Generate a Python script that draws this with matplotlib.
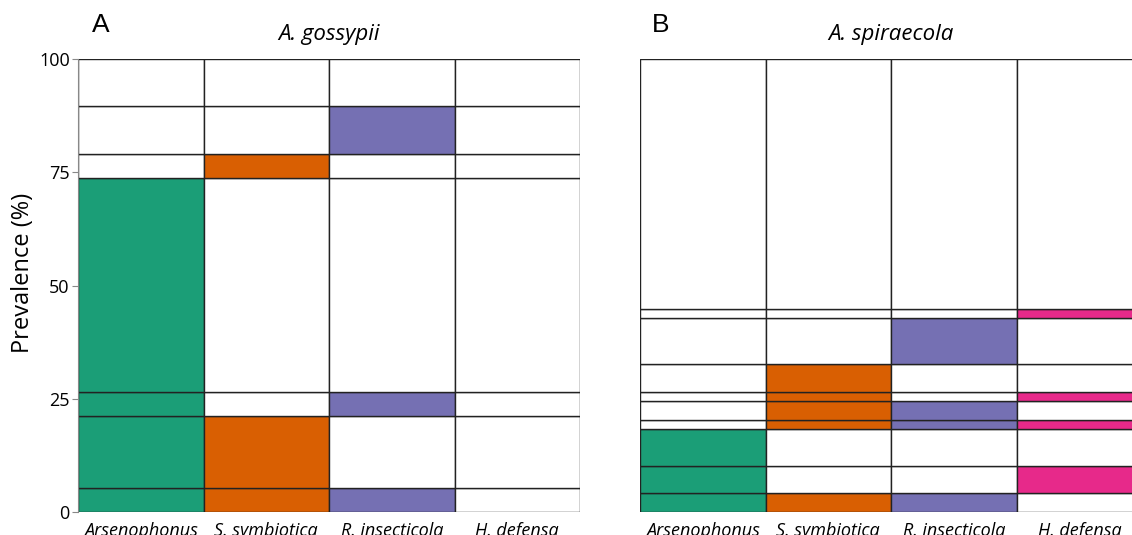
import numpy as np
import matplotlib.pyplot as plt

# Simbiontes (columnas)
simbiontes = ['Arsenophonus', 'S. symbiotica', 'R. insecticola', 'H. defensa']
colores = ['#1b9e77', '#d95f02', '#7570b3', '#e7298a']

# Panel A: A. gossypii - combinaciones de infección (de abajo hacia arriba), en %
prev_a = [5.3, 15.8, 5.3, 47.4, 5.3, 10.5, 10.5]
pres_a = [[1, 1, 1, 0],
          [1, 1, 0, 0],
          [1, 0, 1, 0],
          [1, 0, 0, 0],
          [0, 1, 0, 0],
          [0, 0, 1, 0],
          [0, 0, 0, 0]]

# Panel B: A. spiraecola
prev_b = [4.1, 6.1, 8.2, 2.0, 4.1, 2.0, 6.1, 10.2, 2.0, 55.1]
pres_b = [[1, 1, 1, 0],
          [1, 0, 0, 1],
          [1, 0, 0, 0],
          [0, 1, 1, 1],
          [0, 1, 1, 0],
          [0, 1, 0, 1],
          [0, 1, 0, 0],
          [0, 0, 1, 0],
          [0, 0, 0, 1],
          [0, 0, 0, 0]]

fuente = 'Open Sans'

fig = plt.figure(figsize=(11.32, 5.35), dpi=100)
ax_a = fig.add_axes([0.0689, 0.043, 0.4435, 0.8467])
ax_b = fig.add_axes([0.5654, 0.043, 0.4435, 0.8467])


def dibujar(ax, prev, pres):
    prev = np.array(prev)
    pres = np.array(pres)
    abajo = np.concatenate([[0], np.cumsum(prev)[:-1]])
    for j in range(len(simbiontes)):
        cols = [colores[j] if p else 'white' for p in pres[:, j]]
        ax.bar(np.full(len(prev), j), prev, bottom=abajo, width=1.0,
               color=cols, edgecolor='#222222', linewidth=1.0)
    ax.set_xlim(-0.5, 3.5)
    ax.set_ylim(0, 100)
    ax.set_xticks(range(len(simbiontes)))
    ax.set_xticklabels(simbiontes, fontstyle='italic', fontsize=13, family=fuente)
    ax.tick_params(axis='x', length=0, pad=7)
    for s in ['top', 'right', 'bottom']:
        ax.spines[s].set_visible(False)
    ax.spines['left'].set_color('#888888')


dibujar(ax_a, prev_a, pres_a)
dibujar(ax_b, prev_b, pres_b)

ax_a.set_yticks([0, 25, 50, 75, 100])
ax_a.set_yticklabels(['0', '25', '50', '75', '100'], family=fuente, fontsize=13)
ax_a.tick_params(axis='y', length=4, color='#888888', pad=2)
ax_a.set_ylabel('Prevalence (%)', family=fuente, fontsize=17)
ax_a.yaxis.set_label_coords(-0.086, 0.528)

ax_b.set_yticks([])
ax_b.spines['left'].set_visible(False)

ax_a.set_title('A. gossypii', fontstyle='italic', family=fuente, fontsize=16, pad=14)
ax_b.set_title('A. spiraecola', fontstyle='italic', family=fuente, fontsize=16, pad=14)

fig.text(92 / 1132, 1 - 25 / 535, 'A', family='Liberation Sans', fontsize=19, va='center')
fig.text(652 / 1132, 1 - 25 / 535, 'B', family='Liberation Sans', fontsize=19, va='center')

fig.savefig('out.png', dpi=100)
